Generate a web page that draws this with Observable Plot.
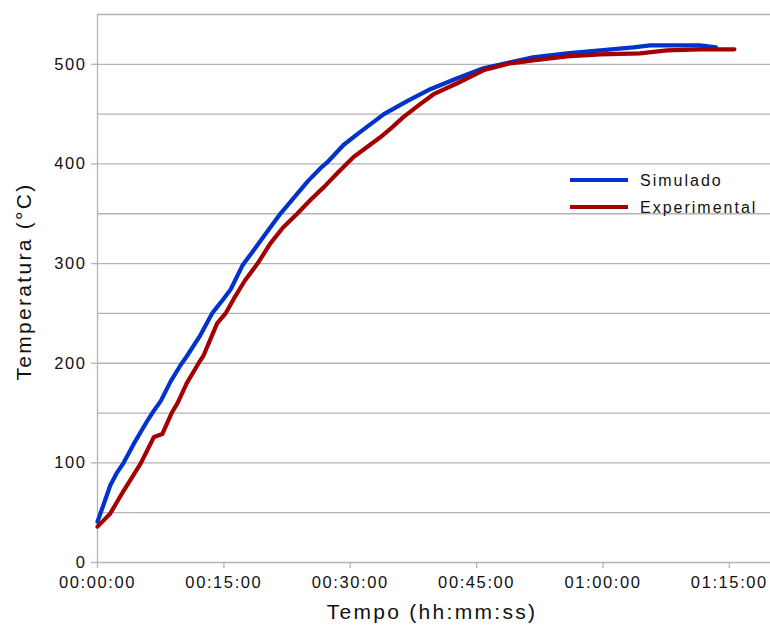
<!DOCTYPE html>
<html><head><meta charset="utf-8">
<script src="https://cdn.jsdelivr.net/npm/d3@7"></script>
<script src="https://cdn.jsdelivr.net/npm/@observablehq/plot@0.6"></script>
<style>html,body{margin:0;padding:0;background:#fff;}</style>
</head><body><div id="chart"></div>
<script>
// Time in minutes, temperature in °C
const simMin  = [0, 0.8, 1.5, 2.3, 3.1, 4.3, 5.9, 6.5, 7.5, 8.7, 9.85, 10.6, 12.2, 13.6, 15.0, 15.8, 17.2, 18.5, 19.7, 21.7, 23.7, 25.0, 26.5, 27.2, 29.2, 31.0, 34.0, 36.75, 39.5, 42.7, 45.8, 49.0, 51.7, 55.7, 59.7, 63.6, 65.6, 71.5, 73.4];
const simTemp = [41, 60, 77, 90, 100, 119, 142, 150, 162, 182, 198, 207, 228, 250, 265, 274, 298, 313, 327, 350, 370, 383, 396, 401, 419, 431, 450, 463, 475, 486, 496, 502, 507, 511, 514, 517, 519, 519, 517];
const expMin  = [0, 1.5, 3.1, 5.1, 6.7, 7.7, 8.8, 9.5, 10.6, 12.0, 12.6, 14.2, 15.2, 16.2, 17.5, 19.0, 20.5, 22.0, 23.7, 25.3, 26.9, 28.6, 30.4, 32.0, 33.6, 35.0, 36.3, 38.3, 39.9, 42.7, 45.8, 49.0, 51.7, 55.7, 59.7, 64.4, 67.6, 71.5, 75.6];
const expTemp = [36, 49, 72, 99, 126, 129, 150, 160, 180, 200, 208, 240, 250, 265, 283, 300, 320, 336, 350, 364, 377, 392, 407, 417, 427, 437, 447, 460, 470, 481, 494, 501, 504, 508, 510, 511, 514, 515, 515];

const seriesNames  = ["Simulado", "Experimental"];
const seriesColors = ["#0033cc", "#a30000"];
const xTicks = [0, 15, 30, 45, 60, 75];
const yTicks = [0, 100, 200, 300, 400, 500];
const yGrid  = [50, 100, 150, 200, 250, 300, 350, 400, 450, 500, 550];
const xTitle = "Tempo (hh:mm:ss)";
const yTitle = "Temperatura (°C)";

const data = [
  ...simMin.map((t, i) => ({t, v: simTemp[i], s: seriesNames[0]})),
  ...expMin.map((t, i) => ({t, v: expTemp[i], s: seriesNames[1]}))
];

const fmt = m => {
  const tot = Math.round(m * 60);
  const h = Math.floor(tot / 3600), mm = Math.floor((tot % 3600) / 60), ss = tot % 60;
  return [h, mm, ss].map(d => String(d).padStart(2, "0")).join(":");
};

const grid = "#b3b3b3";
const svg = Plot.plot({
  width: 770, height: 631,
  marginLeft: 97, marginRight: -1, marginTop: 14, marginBottom: 69,
  style: {fontFamily: "'Liberation Sans', Arial, sans-serif", fontSize: "16.5px", color: "#111", background: "#fff", overflow: "visible", letterSpacing: "1.6px"},
  x: {domain: [0, 80]},
  y: {domain: [0, 550]},
  color: {domain: seriesNames, range: seriesColors},
  marks: [
    Plot.ruleY(yGrid, {stroke: grid, strokeWidth: 1.3}),
    Plot.ruleY([0], {stroke: grid, strokeWidth: 1.3}),
    Plot.ruleX([0], {stroke: grid, strokeWidth: 1.3}),
    Plot.axisX({ticks: xTicks, tickFormat: fmt, tickSize: 6, tickPadding: 8, stroke: grid, strokeWidth: 1.3, fill: "#111", label: null}),
    Plot.axisY({ticks: yTicks, tickSize: 6, tickPadding: 5, stroke: grid, strokeWidth: 1.3, fill: "#111", label: null}),
    Plot.lineY(data, {x: "t", y: "v", stroke: "s", strokeWidth: 4.2, strokeLinejoin: "round"})
  ]
});
document.getElementById("chart").appendChild(svg);

const s = d3.select(svg);
const ff = "'Liberation Sans', Arial, sans-serif";
s.append("text").attr("x", 432).attr("y", 619).attr("text-anchor", "middle")
  .attr("font-family", ff).attr("font-size", 21).attr("letter-spacing", "2.3px").attr("fill", "#111").text(xTitle);
s.append("text").attr("transform", "translate(31,281.5) rotate(-90)").attr("text-anchor", "middle")
  .attr("font-family", ff).attr("font-size", 21).attr("letter-spacing", "2.3px").attr("fill", "#111").text(yTitle);

// legend
const leg = s.append("g");
seriesNames.forEach((name, i) => {
  const y = 180 + i * 27;
  leg.append("line").attr("x1", 570).attr("x2", 628).attr("y1", y).attr("y2", y)
    .attr("stroke", seriesColors[i]).attr("stroke-width", 4.2);
  leg.append("text").attr("x", 640).attr("y", y + 5.5).attr("text-anchor", "start").attr("font-family", ff).attr("font-size", 16)
    .attr("letter-spacing", "2px").attr("fill", "#111").text(name);
});
</script>
</body></html>
